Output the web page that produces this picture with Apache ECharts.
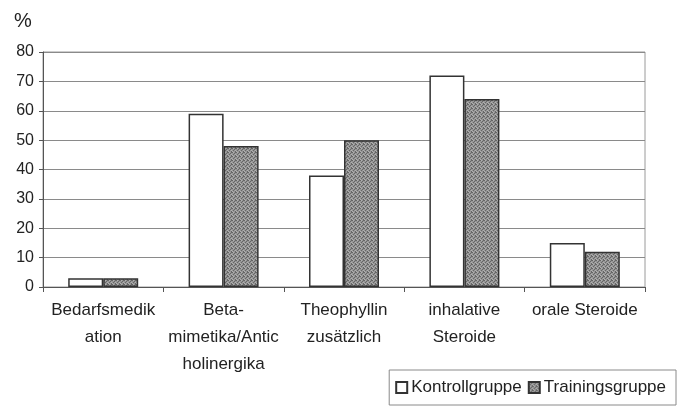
<!DOCTYPE html>
<html>
<head>
<meta charset="utf-8">
<script src="https://cdn.jsdelivr.net/npm/echarts@6/dist/echarts.min.js"></script>
<style>
  html, body { margin: 0; padding: 0; background: #fff; }
  #chart { width: 679px; height: 408px; }
</style>
</head>
<body>
<div id="chart"></div>
<script>
// Medication use per group, in percent
const categories = [
  'Bedarfsmedik\nation',
  'Beta-\nmimetika/Antic\nholinergika',
  'Theophyllin\nzusätzlich',
  'inhalative\nSteroide',
  'orale Steroide'
];
const kontrollgruppe = [3, 59, 38, 72, 15];
const trainingsgruppe = [3, 48, 50, 64, 12];
const yTicks = [0, 10, 20, 30, 40, 50, 60, 70, 80];

// Stippled grey fill for the training group bars
function stipple() {
  const c = document.createElement('canvas');
  c.width = 4; c.height = 4;
  const ctx = c.getContext('2d');
  ctx.fillStyle = '#969696';
  ctx.fillRect(0, 0, 4, 4);
  ctx.fillStyle = '#666666';
  [[0, 0], [2, 1], [1, 2], [3, 3], [3, 0]].forEach(p => ctx.fillRect(p[0], p[1], 1, 1));
  ctx.fillStyle = '#b0b0b0';
  [[1, 0], [3, 2], [0, 3]].forEach(p => ctx.fillRect(p[0], p[1], 1, 1));
  return c;
}

const font = 'Liberation Sans, Arial, sans-serif';
const ink = '#222';
const chart = echarts.init(document.getElementById('chart'), null, { renderer: 'canvas' });

chart.setOption({
  animation: false,
  backgroundColor: '#fff',
  textStyle: { fontFamily: font, color: ink },
  grid: {
    left: 43, right: 34, top: 52, bottom: 121,
    show: true, borderColor: '#9a9a9a', borderWidth: 1, backgroundColor: 'transparent'
  },
  graphic: [{
    type: 'text', left: 14, top: 11,
    style: { text: '%', font: '20px ' + font, fill: ink }
  }],
  legend: {
    right: 3, bottom: 3,
    orient: 'horizontal',
    itemWidth: 11, itemHeight: 11, itemGap: 6,
    padding: [9, 10, 9, 6],
    borderColor: '#8a8a8a', borderWidth: 1,
    textStyle: { fontSize: 17, fontFamily: font, color: ink, padding: [0, 0, 0, -1] },
    data: [
      { name: 'Kontrollgruppe', icon: 'rect' },
      { name: 'Trainingsgruppe', icon: 'rect' }
    ]
  },
  xAxis: {
    type: 'category',
    data: categories,
    axisLine: { lineStyle: { color: '#555', width: 1 } },
    axisTick: { show: true, length: 5, lineStyle: { color: '#555' } },
    axisLabel: {
      interval: 0, fontSize: 17, lineHeight: 27, margin: 10,
      color: ink, fontFamily: font
    },
    splitLine: { show: false }
  },
  yAxis: {
    type: 'value',
    min: yTicks[0], max: yTicks[yTicks.length - 1], interval: 10,
    axisLine: { show: true, lineStyle: { color: '#555', width: 1 } },
    axisTick: { show: true, length: 4, lineStyle: { color: '#555' } },
    axisLabel: { fontSize: 16, margin: 9, color: ink, fontFamily: font },
    splitLine: { show: true, lineStyle: { color: '#8a8a8a', width: 1 } }
  },
  series: [
    {
      name: 'Kontrollgruppe', type: 'bar', data: kontrollgruppe,
      barWidth: 35, barGap: '0%',
      itemStyle: { color: '#ffffff', borderColor: '#333', borderWidth: 1.5 }
    },
    {
      name: 'Trainingsgruppe', type: 'bar', data: trainingsgruppe,
      barWidth: 35, barGap: '0%',
      itemStyle: { color: { image: stipple(), repeat: 'repeat' }, borderColor: '#333', borderWidth: 1.5 }
    }
  ]
});
</script>
</body>
</html>
